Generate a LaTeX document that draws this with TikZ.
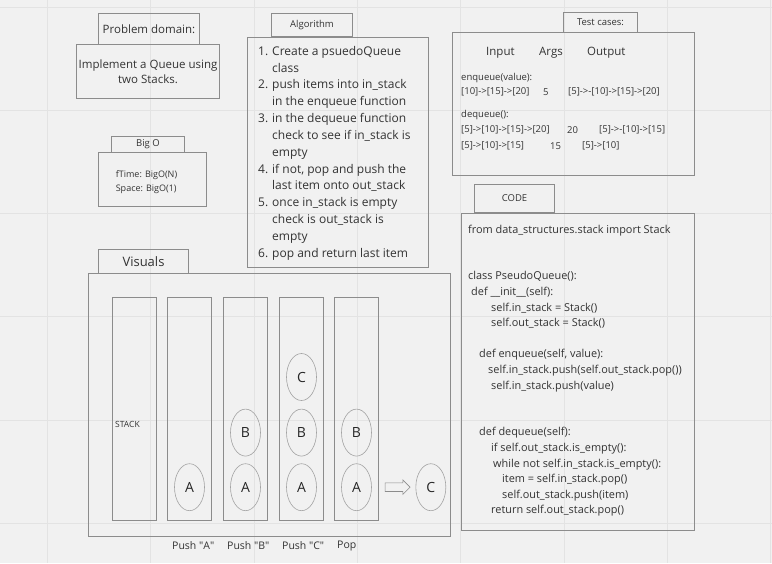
\documentclass[tikz,border=0pt]{standalone}
\usepackage{fontspec}
\setmainfont{Open Sans}
\usetikzlibrary{positioning,shapes.geometric,shapes.arrows}
\definecolor{paper}{HTML}{F1F1F1}
\definecolor{rule}{HTML}{E3E3E3}
\definecolor{edge}{HTML}{8C8C8C}
\definecolor{ink}{HTML}{333333}
\newcommand{\algno}[1]{\makebox[14pt][l]{#1}}
\newcommand{\alghang}{\hspace*{14pt}}
\newcommand{\qt}[1]{\textquotedbl#1\textquotedbl}
\tikzset{
  box/.style={draw=edge,line width=1pt,inner sep=0pt,anchor=north west,text=ink},
  title/.style={box,font=\fontsize{9.5}{12}\selectfont},
  txt/.style={inner sep=0pt,text=ink,align=left},
  tcrow/.style={txt,anchor=west,font=\fontsize{9.5}{12}\selectfont},
  col/.style={draw=edge,line width=1pt,anchor=north west,minimum width=44pt,minimum height=223pt,inner sep=0pt},
  ball/.style={ellipse,draw=edge!80,line width=0.6pt,minimum width=30pt,minimum height=47pt,inner sep=0pt,font=\fontsize{14}{14}\selectfont,text=black!85},
  lbl/.style={txt,anchor=west,font=\fontsize{10.5}{12}\selectfont}
}
\begin{document}
\begin{tikzpicture}[x=1pt,y=-1pt]
\fill[paper] (0,0) rectangle (772,563);
\useasboundingbox (0,0) rectangle (772,563);
\foreach \x in {47.5,150.8,...,772} \draw[rule,line width=1pt] (\x,0) -- (\x,563);
\foreach \y in {7,110.3,...,563} \draw[rule,line width=1pt] (0,\y) -- (772,\y);

\node[title,minimum width=101pt,minimum height=31pt,font=\fontsize{11.5}{14}\selectfont] (pdT) at (98,13) {Problem domain:};
\node[box,minimum width=143pt,minimum height=54pt,align=center,font=\fontsize{11.5}{15}\selectfont] (pdB) at (76,44) {Implement a Queue using\\two Stacks.};

\node[title,minimum width=81pt,minimum height=23pt] (algT) at (271,13) {Algorithm};
\node[box,minimum width=181pt,minimum height=230pt] (algB) at (247,37) {};
\node[txt,anchor=north west,font=\fontsize{12}{16.83}\selectfont] (algL) at (258,46) {%
\algno{1.}Create a psuedoQueue\\
\alghang class\\
\algno{2.}push items into in\_stack\\
\alghang in the enqueue function\\
\algno{3.}in the dequeue function\\
\alghang check to see if in\_stack is\\
\alghang empty\\
\algno{4.}if not, pop and push the\\
\alghang last item onto out\_stack\\
\algno{5.}once in\_stack is empty\\
\alghang check is out\_stack is\\
\alghang empty\\
\algno{6.}pop and return last item};

\node[title,minimum width=73pt,minimum height=16pt] (boT) at (111,136) {Big O};
\node[box,minimum width=108pt,minimum height=54pt] (boB) at (98,152) {};
\node[txt,font=\fontsize{9}{14}\selectfont] (boL) at (146.5,182.5) {fTime: BigO(N)\\Space: BigO(1)};

\node[title,minimum width=90pt,minimum height=24pt,font=\fontsize{13}{15}\selectfont] (visT) at (98,249) {Visuals};
\node[box,minimum width=362pt,minimum height=263pt] (visB) at (88,273) {};
\foreach \i/\x in {0/112,1/167,2/223,3/279,4/334} \node[col] (s\i) at (\x,297) {};
\node[txt,anchor=west,font=\fontsize{8.5}{10}\selectfont] (stk) at (115,424) {STACK};
\node[ball,above=10pt of s1.south] (a1) {A};
\node[ball,above=10pt of s2.south] (a2) {A};
\node[ball,above=7pt of a2] (b2) {B};
\node[ball,above=10pt of s3.south] (a3) {A};
\node[ball,above=7pt of a3] (b3) {B};
\node[ball,above=8pt of b3] (c3) {C};
\node[ball,above=10pt of s4.south] (a4) {A};
\node[ball,above=7pt of a4] (b4) {B};
\node[single arrow,draw=edge,fill=paper,line width=0.6pt,minimum height=25pt,inner xsep=0pt,inner ysep=4pt,single arrow head extend=3pt,right=13pt of a4] (move) {};
\node[ball,right=5pt of move] (out) {C};
\node[lbl] (l1) at (172,546) {Push \qt{A}};
\node[lbl] (l2) at (227,546) {Push \qt{B}};
\node[lbl] (l3) at (282,546) {Push \qt{C}};
\node[lbl] (l4) at (337,546) {Pop};

\node[title,minimum width=74pt,minimum height=20pt] (tcT) at (563,12) {Test cases:};
\node[box,minimum width=242pt,minimum height=143pt] (tcB) at (452,32) {};
\node[tcrow,font=\fontsize{11.5}{14}\selectfont] (hIn) at (486,53) {Input};
\node[tcrow,font=\fontsize{11.5}{14}\selectfont] (hArg) at (539,53) {Args};
\node[tcrow,font=\fontsize{11.5}{14}\selectfont] (hOut) at (587,53) {Output};
\foreach \x/\y/\t [count=\k] in {461/78/{enqueue(value):},461/92/{[10]->[15]->[20]},543/92/{5},568/92/{[5]->-[10]->[15]->[20]},
  461/115/{dequeue():},461/130/{[5]->[10]->[15]->[20]},567/130/{20},599/130/{[5]->-[10]->[15]},
  461/146/{[5]->[10]->[15]},550/146/{15},582/146/{[5]->[10]}}
  \node[tcrow] (tc\k) at (\x,\y) {\t};

\node[title,minimum width=80pt,minimum height=28pt] (cdT) at (474,184) {CODE};
\node[box,minimum width=233pt,minimum height=317pt] (cdB) at (461,213) {};
\node[txt,anchor=north west,font=\fontsize{10.9}{15.6}\selectfont] (cdL) at (468,224.5) {%
from data\_structures.stack import Stack\\
~\\
~\\
class PseudoQueue():\\
\hspace*{3pt}def \_\_init\_\_(self):\\
\hspace*{23pt}self.in\_stack = Stack()\\
\hspace*{23pt}self.out\_stack = Stack()\\
~\\
\hspace*{11pt}def enqueue(self, value):\\
\hspace*{20pt}self.in\_stack.push(self.out\_stack.pop())\\
\hspace*{23pt}self.in\_stack.push(value)\\
~\\
~\\
\hspace*{11pt}def dequeue(self):\\
\hspace*{23pt}if self.out\_stack.is\_empty():\\
\hspace*{25pt}while not self.in\_stack.is\_empty():\\
\hspace*{34pt}item = self.in\_stack.pop()\\
\hspace*{34pt}self.out\_stack.push(item)\\
\hspace*{23pt}return self.out\_stack.pop()};
\end{tikzpicture}
\end{document}
